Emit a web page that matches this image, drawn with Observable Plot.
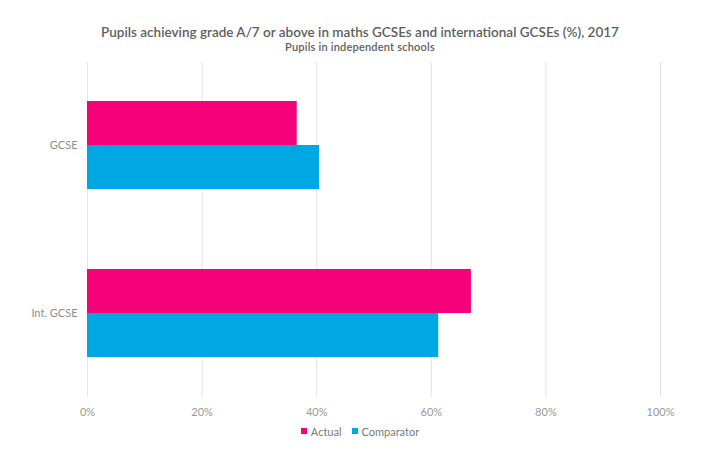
<!DOCTYPE html>
<html>
<head>
<meta charset="utf-8">
<script src="https://cdn.jsdelivr.net/npm/d3@7"></script>
<script src="https://cdn.jsdelivr.net/npm/@observablehq/plot@0.6"></script>
<style>
  html, body { margin: 0; padding: 0; background: #fff; }
  body { width: 720px; height: 464px; font-family: Lato, "Open Sans", sans-serif; }
  #header { height: 56px; text-align: center; color: #5e5e5e; }
  #title { padding-top: 24px; font-size: 13.5px; line-height: 16px; font-weight: 600; }
  #subtitle { font-size: 11px; line-height: 13px; font-weight: 600; color: #606060; letter-spacing: 0.2px; }
  #legend { display: flex; justify-content: center; align-items: center; height: 16px; margin-top: 1px; font-size: 11px; color: #7a7a7a; }
  .item { display: flex; align-items: center; margin: 0 5px; }
  .sw { width: 6px; height: 6px; margin-right: 4px; }
</style>
</head>
<body>
<div id="header">
  <div id="title">Pupils achieving grade A/7 or above in maths GCSEs and international GCSEs (%), 2017</div>
  <div id="subtitle">Pupils in independent schools</div>
</div>
<div id="chart"></div>
<div id="legend"></div>
<script>
const categories = ["GCSE", "Int. GCSE"];
const series = ["Actual", "Comparator"];
const actual = [36.6, 67.0];
const comparator = [40.5, 61.3];
const xTicks = [0, 20, 40, 60, 80, 100];
const colors = ["#f5017a", "#00a8e3"];

const actualRows = categories.map((c, i) => ({category: c, series: series[0], value: actual[i]}));
const comparatorRows = categories.map((c, i) => ({category: c, series: series[1], value: comparator[i]}));

const chart = Plot.plot({
  width: 720,
  height: 366,
  marginTop: 6,
  marginBottom: 25,
  marginLeft: 87,
  marginRight: 60,
  style: {fontFamily: "Lato, 'Open Sans', sans-serif", fontSize: "11px", color: "#999", background: "#fff"},
  x: {domain: [0, 100]},
  y: {domain: categories, paddingInner: 0.476, paddingOuter: 0.235},
  color: {domain: series, range: colors},
  marks: [
    Plot.gridX(xTicks, {stroke: "#e4e4e4", strokeOpacity: 1, strokeWidth: 1}),
    Plot.barX(actualRows, {x: "value", y: "category", fill: "series", insetBottom: 44}),
    Plot.barX(comparatorRows, {x: "value", y: "category", fill: "series", insetTop: 44}),
    Plot.axisX({ticks: xTicks, tickFormat: d => d + "%", tickSize: 0, tickPadding: 11, label: null, fill: "#999"}),
    Plot.axisY({tickSize: 0, tickPadding: 10, label: null, fill: "#8f8f8f"})
  ]
});
document.getElementById("chart").appendChild(chart);

const legend = d3.select("#legend");
series.forEach((s, i) => {
  const item = legend.append("div").attr("class", "item");
  item.append("div").attr("class", "sw").style("background", colors[i]);
  item.append("span").text(s);
});
</script>
</body>
</html>
